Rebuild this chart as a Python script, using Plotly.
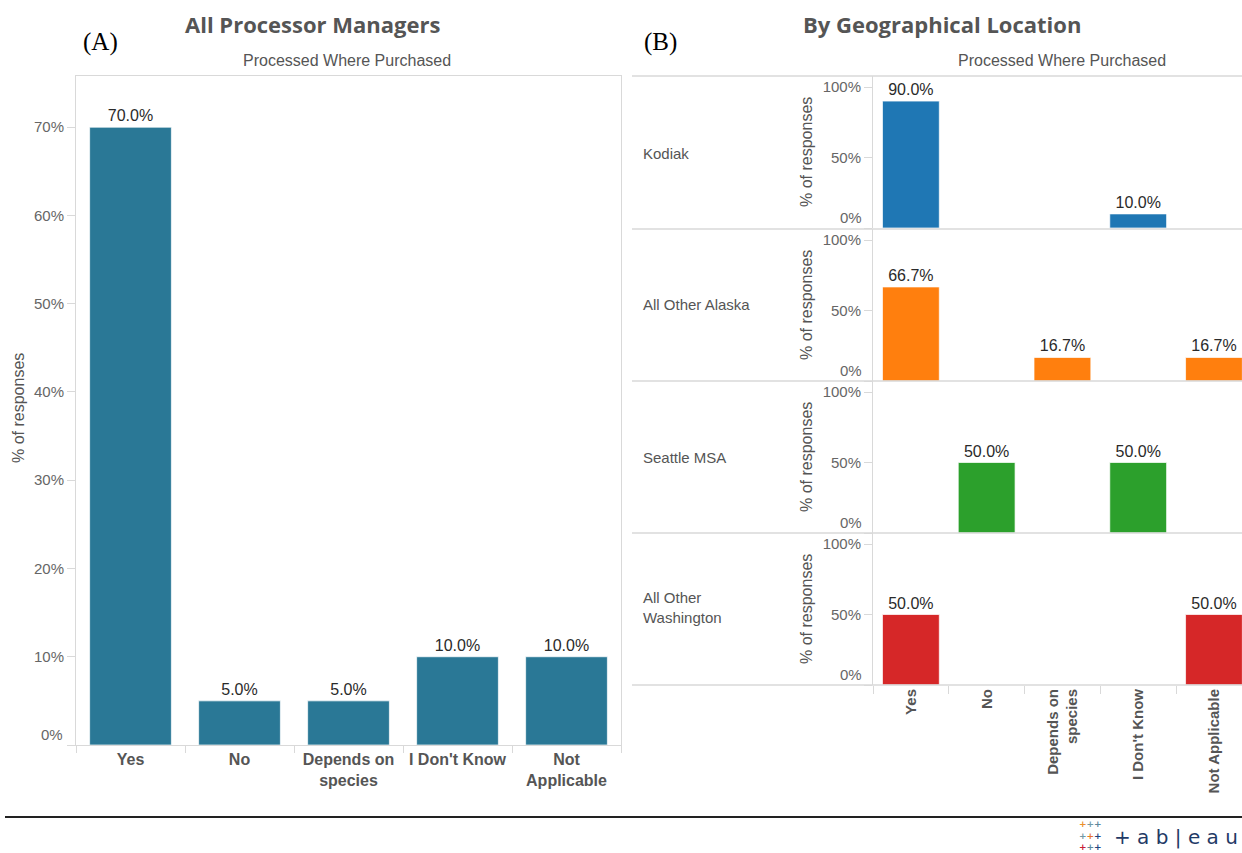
import plotly.graph_objects as go

W, H = 1242, 853

# ---------------- data ----------------
labels_a = ["Yes", "No", "Depends on<br>species", "I Don't Know", "Not<br>Applicable"]
labels_b = ["Yes", "No", "Depends on<br>species", "I Don't Know", "Not Applicable"]
all_managers = [70.0, 5.0, 5.0, 10.0, 10.0]
ticks_a = [0, 10, 20, 30, 40, 50, 60, 70]
ticks_b = [0, 50, 100]
regions = ["Kodiak", "All Other Alaska", "Seattle MSA", "All Other<br>Washington"]
kodiak = [90.0, None, None, 10.0, None]
other_alaska = [66.7, None, 16.7, None, 16.7]
seattle = [None, 50.0, None, 50.0, None]
other_wa = [50.0, None, None, None, 50.0]
region_values = [kodiak, other_alaska, seattle, other_wa]
region_colors = ["#1F77B4", "#FF7F0E", "#2CA02C", "#D62728"]
bar_a_color = "#2A7896"


def px(x):
    return x / W


def py(y):
    return 1 - y / H


GRID = "#D9D9D9"
TXT = "#555555"
TICK = "#666666"
SANS = "Liberation Sans, Arial, sans-serif"
LABEL_FONT = dict(size=16, color="#2A2A2A", family=SANS)


def tick_text(vals):
    # the 0% label is drawn separately, nudged above the baseline as in the original
    return ["" if v == 0 else f"{v}%" for v in vals]


fig = go.Figure()

# Panel A bars
fig.add_trace(go.Bar(
    x=labels_a, y=all_managers, marker_color=bar_a_color,
    marker_line=dict(color="rgba(255,255,255,0.7)", width=1),
    width=0.75, texttemplate="%{y:.1f}%", textposition="outside",
    textfont=LABEL_FONT, cliponaxis=False, xaxis="x", yaxis="y",
    showlegend=False, hoverinfo="x+y"))

# Panel B bars, one row per region
for i, (vals, col) in enumerate(zip(region_values, region_colors)):
    n = i + 2
    fig.add_trace(go.Bar(
        x=labels_b, y=vals, marker_color=col,
        marker_line=dict(color="rgba(255,255,255,0.7)", width=1),
        width=0.75, texttemplate="%{y:.1f}%", textposition="outside",
        textfont=LABEL_FONT, cliponaxis=False, xaxis=f"x{n}", yaxis=f"y{n}",
        showlegend=False, hoverinfo="x+y"))

layout = dict(
    width=W, height=H, autosize=False, margin=dict(l=0, r=0, t=0, b=0, pad=0),
    paper_bgcolor="white", plot_bgcolor="white",
    font=dict(family=SANS, color=TXT),
)

# Panel A axes
layout["xaxis"] = dict(
    domain=[px(76), px(621)], anchor="y", type="category",
    showline=True, linecolor=GRID, linewidth=1, mirror=True,
    ticks="outside", tickson="boundaries", ticklen=7, tickcolor=GRID,
    tickfont=dict(size=16, color=TXT, family=SANS, weight="bold"),
    showgrid=False, zeroline=False, fixedrange=True)
layout["yaxis"] = dict(
    domain=[py(745), py(76)], anchor="x", range=[0, 75.8],
    tickvals=ticks_a, ticktext=tick_text(ticks_a),
    showline=True, linecolor=GRID, linewidth=1, mirror=True,
    ticks="outside", ticklen=8, tickcolor=GRID,
    tickfont=dict(size=15, color=TICK, family=SANS),
    showgrid=False, zeroline=False, fixedrange=True)

# Panel B axes
row_top = [76, 229, 381, 533]
row_h = 152
for i in range(4):
    n = i + 2
    top = row_top[i]
    bottom = top + row_h
    last = (i == 3)
    layout[f"xaxis{n}"] = dict(
        domain=[px(873), 1.0], anchor=f"y{n}", type="category",
        range=[-0.5, 4.37], showline=False,
        ticks="outside" if last else "", tickson="boundaries",
        ticklen=8, tickcolor=GRID, tickangle=-90,
        showticklabels=last,
        tickfont=dict(size=15, color=TXT, family=SANS, weight="bold"),
        showgrid=False, zeroline=False, fixedrange=True)
    layout[f"yaxis{n}"] = dict(
        domain=[py(bottom), py(top)], anchor=f"x{n}", range=[0, 107.8],
        tickvals=ticks_b, ticktext=tick_text(ticks_b),
        showline=True, linecolor=GRID, linewidth=1,
        ticks="outside", ticklen=8, tickcolor=GRID,
        tickfont=dict(size=15, color=TICK, family=SANS),
        showgrid=False, zeroline=False, fixedrange=True)

fig.update_layout(**layout)

shapes = []
# Panel B row separators
for yline in [76, 229, 381, 533, 685]:
    shapes.append(dict(type="line", xref="paper", yref="paper",
                       x0=px(632), x1=1.0, y0=py(yline), y1=py(yline),
                       line=dict(color=GRID, width=1.5)))
# bottom black rule
shapes.append(dict(type="line", xref="paper", yref="paper",
                   x0=px(5), x1=1.0, y0=py(817), y1=py(817),
                   line=dict(color="#222222", width=2)))
fig.update_layout(shapes=shapes)

ann = []


def add_text(text, x, y, size, color=TXT, family=SANS, weight="normal",
             xanchor="center", yanchor="middle", angle=0, align="center"):
    ann.append(dict(text=text, x=px(x), y=py(y), xref="paper", yref="paper",
                    showarrow=False, xanchor=xanchor, yanchor=yanchor,
                    textangle=angle, align=align,
                    font=dict(size=size, color=color, family=family, weight=weight)))


# 0% tick labels, sitting just above each baseline
ann.append(dict(text="0%", x=px(65), xref="paper", y=0, yref="y",
                xanchor="right", yanchor="bottom", showarrow=False,
                font=dict(size=15, color=TICK, family=SANS)))
for i in range(4):
    ann.append(dict(text="0%", x=px(864), xref="paper", y=0, yref=f"y{i + 2}",
                    xanchor="right", yanchor="bottom", showarrow=False,
                    font=dict(size=15, color=TICK, family=SANS)))

TITLE_FONT = "Open Sans, Liberation Sans, sans-serif"
add_text("All Processor Managers", 312, 24, 22, color="#555555", family=TITLE_FONT, weight="bold")
add_text("By Geographical Location", 942, 24, 22, color="#555555", family=TITLE_FONT, weight="bold")
add_text("(A)", 100, 42, 25, color="#000000", family="Liberation Serif, Times New Roman, serif")
add_text("(B)", 660, 42, 25, color="#000000", family="Liberation Serif, Times New Roman, serif")
add_text("Processed Where Purchased", 347, 61, 16)
add_text("Processed Where Purchased", 1062, 61, 16)
add_text("% of responses", 18, 408, 16, angle=-90)

row_label_y = [153, 304, 457, 607]
for i, name in enumerate(regions):
    add_text(name, 641, row_label_y[i], 15, xanchor="left", align="left")
    add_text("% of responses", 806, row_top[i] + row_h / 2, 16, angle=-90)

# tableau logo (text)
logo = ("<span style='color:#EB912B'>+</span><span style='color:#7099A6'>+</span>"
        "<span style='color:#5B879B'>+</span><br>"
        "<span style='color:#7099A6'>+</span><span style='color:#E8762B'>+</span>"
        "<span style='color:#1F457E'>+</span><br>"
        "<span style='color:#C72035'>+</span><span style='color:#5B879B'>+</span>"
        "<span style='color:#1F457E'>+</span>")
ann.append(dict(text=logo, x=px(1090), y=py(835), xref="paper", yref="paper",
                showarrow=False, xanchor="center", yanchor="middle",
                font=dict(size=9, family="DejaVu Sans", weight="bold"),
                align="center"))
add_text("+ a b | e a u", 1176, 837, 20, color="#1F3A66", family="DejaVu Sans")

fig.update_layout(annotations=ann)

fig.write_html(
    "out.html",
    config={"displayModeBar": False, "responsive": False},
    post_script="document.body.style.margin='0';document.body.style.overflow='hidden';")
